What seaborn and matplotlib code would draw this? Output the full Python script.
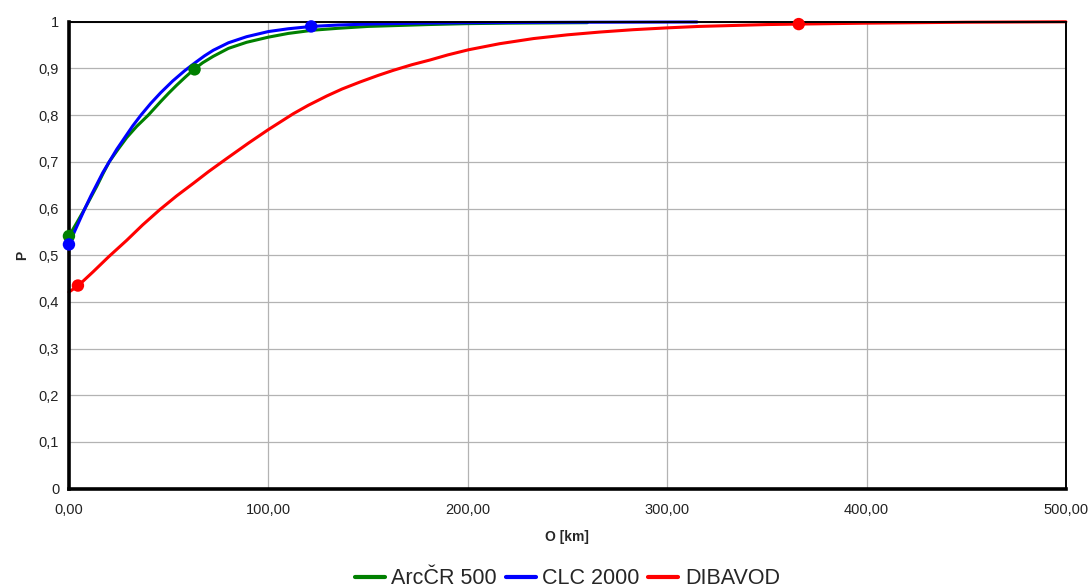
import numpy as np
import pandas as pd
import matplotlib
matplotlib.use("Agg")
import matplotlib.pyplot as plt
import seaborn as sns
from matplotlib.ticker import FuncFormatter, MultipleLocator

sns.set_theme(style="white")
plt.rcParams["font.family"] = ["Liberation Sans", "DejaVu Sans"]

# ── Data ────────────────────────────────────────────────────────────────
green_x = [0, 4, 8, 11, 14, 17, 20.2, 24.5, 29, 34, 39.8, 46, 50, 54, 58.5, 62.7, 67, 72.4,
           80, 89.1, 100, 110, 122.6, 135, 150, 165, 180, 200, 220, 260]
green_y = [0.541, 0.570, 0.600, 0.624, 0.648, 0.674, 0.700, 0.726, 0.752, 0.776, 0.800, 0.829,
           0.847, 0.864, 0.882, 0.898, 0.912, 0.926, 0.943, 0.956, 0.967, 0.975, 0.982, 0.986,
           0.990, 0.992, 0.994, 0.996, 0.997, 0.998]

blue_x = [0, 2, 4, 6, 8, 11, 14, 17, 20.2, 24, 28, 32, 36.1, 41, 46, 52, 58, 63.2, 68, 72.4,
          80, 89.1, 100, 110, 121.7, 135, 150, 175, 200, 260, 315]
blue_y = [0.523, 0.543, 0.562, 0.581, 0.600, 0.627, 0.652, 0.677, 0.700, 0.727, 0.752, 0.777,
          0.800, 0.825, 0.848, 0.873, 0.895, 0.912, 0.927, 0.939, 0.955, 0.968, 0.979, 0.985,
          0.990, 0.993, 0.995, 0.997, 0.998, 0.999, 0.9995]

red_x = [0, 4.7, 12, 20, 29, 37, 45.7, 54, 62.4, 70, 79.1, 90, 100, 112.5, 120, 129.3, 137,
         146, 155, 162.7, 172, 181, 190, 200.4, 216, 233, 250, 266.4, 283, 300.4, 316, 333,
         350, 366, 400, 450, 500]
red_y = [0.421, 0.435, 0.464, 0.497, 0.532, 0.565, 0.598, 0.627, 0.654, 0.679, 0.707, 0.740,
         0.769, 0.803, 0.821, 0.841, 0.856, 0.871, 0.885, 0.896, 0.908, 0.918, 0.929, 0.940,
         0.953, 0.964, 0.972, 0.978, 0.983, 0.987, 0.990, 0.992, 0.994, 0.995, 0.997, 0.999,
         1.0]

# visible markers
green_mx, green_my = [0, 63], [0.541, 0.898]
blue_mx, blue_my = [0, 121.5], [0.523, 0.990]
red_mx, red_my = [4.5, 366], [0.435, 0.995]

names = ["ArcČR 500", "CLC 2000", "DIBAVOD"]
colors = ["#008000", "#0000FF", "#FF0000"]

series = [(green_x, green_y, green_mx, green_my),
          (blue_x, blue_y, blue_mx, blue_my),
          (red_x, red_y, red_mx, red_my)]

# ── Plot ────────────────────────────────────────────────────────────────
fig = plt.figure(figsize=(10.91, 5.88), dpi=100)
ax = fig.add_axes([0.0632, 0.169, 0.9138, 0.794])

for (xs, ys, mx, my), name, col in zip(series, names, colors):
    sns.lineplot(x=xs, y=ys, color=col, linewidth=2.2, label=name,
                 sort=False, estimator=None, ax=ax, clip_on=False)
    sns.scatterplot(x=mx, y=my, color=col, s=80, edgecolor="none",
                    legend=False, ax=ax, clip_on=False, zorder=5)

ax.set_xlim(0, 500)
ax.set_ylim(0, 1)
ax.xaxis.set_major_locator(MultipleLocator(100))
ax.yaxis.set_major_locator(MultipleLocator(0.1))
ax.xaxis.set_major_formatter(FuncFormatter(lambda v, p: f"{v:.2f}".replace(".", ",")))
ax.yaxis.set_major_formatter(FuncFormatter(
    lambda v, p: f"{int(round(v))}" if round(v, 3) in (0, 1) else f"{v:.1f}".replace(".", ",")))

ax.grid(True, color="#b3b3b3", linewidth=0.9)
ax.set_axisbelow(True)

for side in ["left", "bottom"]:
    ax.spines[side].set_color("black")
    ax.spines[side].set_linewidth(2.6)
for side in ["top", "right"]:
    ax.spines[side].set_color("black")
    ax.spines[side].set_linewidth(1.4)

ax.tick_params(axis="both", which="major", direction="out", length=4, width=2,
               color="black", labelsize=10.5, labelcolor="#222222")
ax.tick_params(axis="x", pad=6)
ax.tick_params(axis="y", pad=3)

ax.set_xlabel("O [km]", fontsize=10, fontweight="bold", labelpad=10)
ax.set_ylabel("P", fontsize=10, fontweight="bold", labelpad=7)

handles, labels = ax.get_legend_handles_labels()
ax.get_legend().remove()
leg = fig.legend(handles, labels, loc="center", bbox_to_anchor=(0.52, 0.016),
                 bbox_transform=fig.transFigure, ncol=3, frameon=False,
                 fontsize=15.5, handlelength=1.4, handletextpad=0.3, columnspacing=0.4)
for h in leg.legend_handles:
    h.set_linewidth(3)

fig.savefig("out.png", dpi=100)
